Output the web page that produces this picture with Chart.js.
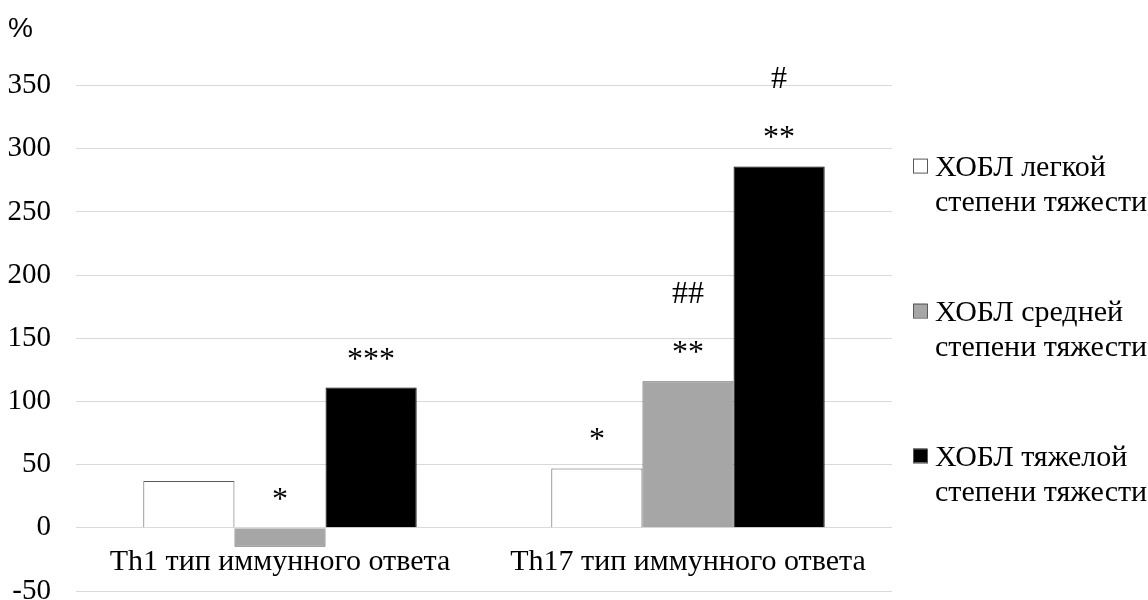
<!DOCTYPE html>
<html>
<head>
<meta charset="utf-8">
<script src="https://cdn.jsdelivr.net/npm/chart.js@4"></script>
<style>
  html, body { margin: 0; background: #fff; }
  #wrap { width: 1148px; height: 600px; }
</style>
</head>
<body>
<div id="wrap"><canvas id="immuneChart"></canvas></div>
<script>
const categories = ['Th1 тип иммунного ответа', 'Th17 тип иммунного ответа'];
const seriesNames = [
    ['ХОБЛ легкой', 'степени тяжести'],
    ['ХОБЛ средней', 'степени тяжести'],
    ['ХОБЛ тяжелой', 'степени тяжести']
];
const mildValues = [37, 47];
const moderateValues = [-15, 116];
const severeValues = [111, 286];
// significance marks above each bar, bottom line first
const mildMarks = [[], ['*']];
const moderateMarks = [['*'], ['**', '##']];
const severeMarks = [['***'], ['**', '#']];
const yMin = -50, yMax = 350, yStep = 50;

const serif = '"Liberation Serif", "Times New Roman", serif';

const marksPlugin = {
    id: 'marks',
    afterDatasetsDraw(chart) {
        const ctx = chart.ctx;
        ctx.save();
        ctx.fillStyle = '#000';
        ctx.font = '32px ' + serif;
        ctx.textAlign = 'center';
        ctx.textBaseline = 'alphabetic';
        chart.data.datasets.forEach((ds, i) => {
            chart.getDatasetMeta(i).data.forEach((bar, j) => {
                const lines = ds.marks[j] || [];
                const top = Math.min(bar.y, bar.base);
                lines.forEach((t, k) => {
                    ctx.fillText(t, bar.x, top - 19 - k * 59);
                });
            });
        });
        ctx.restore();
    }
};

const legendPlugin = {
    id: 'sideLegend',
    afterDraw(chart) {
        const ctx = chart.ctx;
        const area = chart.chartArea;
        const x0 = area.right + 21;
        const gap = 145;
        const firstY = area.top + 82;
        ctx.save();
        ctx.font = '30px ' + serif;
        ctx.textBaseline = 'middle';
        ctx.textAlign = 'left';
        chart.data.datasets.forEach((ds, i) => {
            const y = firstY + i * gap;
            ctx.fillStyle = ds.backgroundColor;
            ctx.fillRect(x0, y - 9, 14, 14);
            ctx.strokeStyle = '#595959';
            ctx.lineWidth = 1;
            ctx.strokeRect(x0 + 0.5, y - 8.5, 14, 14);
            ctx.fillStyle = '#000';
            seriesNames[i].forEach((line, k) => {
                ctx.fillText(line, x0 + 22, y + 1 + k * 35);
            });
        });
        ctx.restore();
    }
};

const ctx = document.getElementById('immuneChart').getContext('2d');
const immuneChart = new Chart(ctx, {
    type: 'bar',
    data: {
        labels: categories,
        datasets: [
            {
                label: seriesNames[0].join(' '),
                data: mildValues,
                marks: mildMarks,
                backgroundColor: '#ffffff',
                borderColor: '#595959',
                borderWidth: 1
            },
            {
                label: seriesNames[1].join(' '),
                data: moderateValues,
                marks: moderateMarks,
                backgroundColor: '#a6a6a6',
                borderColor: '#595959',
                borderWidth: 1
            },
            {
                label: seriesNames[2].join(' '),
                data: severeValues,
                marks: severeMarks,
                backgroundColor: '#000000',
                borderColor: '#000000',
                borderWidth: 1
            }
        ]
    },
    options: {
        responsive: true,
        maintainAspectRatio: false,
        animation: false,
        layout: {
            padding: { left: 8, right: 256, top: 0, bottom: 9 }
        },
        datasets: {
            bar: {
                categoryPercentage: 0.67,
                barPercentage: 1.0
            }
        },
        scales: {
            x: {
                position: { y: 0 },
                afterFit(scale) {
                    scale.height = 0;
                    scale.paddingLeft = scale.paddingRight = 0;
                    scale.paddingTop = scale.paddingBottom = 0;
                },
                grid: { display: false },
                border: { display: false },
                ticks: {
                    color: '#000',
                    padding: 8,
                    maxRotation: 0,
                    font: { family: serif, size: 30 }
                }
            },
            y: {
                min: yMin,
                max: yMax,
                afterFit(scale) {
                    scale.width = 68;
                    scale.paddingTop = scale.paddingBottom = 0;
                },
                grid: { color: '#d9d9d9', drawTicks: false },
                border: { display: false },
                ticks: {
                    stepSize: yStep,
                    color: '#000',
                    padding: 25,
                    font: { family: serif, size: 29 }
                }
            }
        },
        plugins: {
            legend: { display: false },
            tooltip: { enabled: false },
            title: {
                display: true,
                text: '%',
                align: 'start',
                color: '#000',
                font: { family: '"Liberation Sans", Arial, sans-serif', size: 28, weight: 'normal' },
                padding: { top: 12, bottom: 40 }
            }
        }
    },
    plugins: [marksPlugin, legendPlugin]
});
</script>
</body>
</html>
